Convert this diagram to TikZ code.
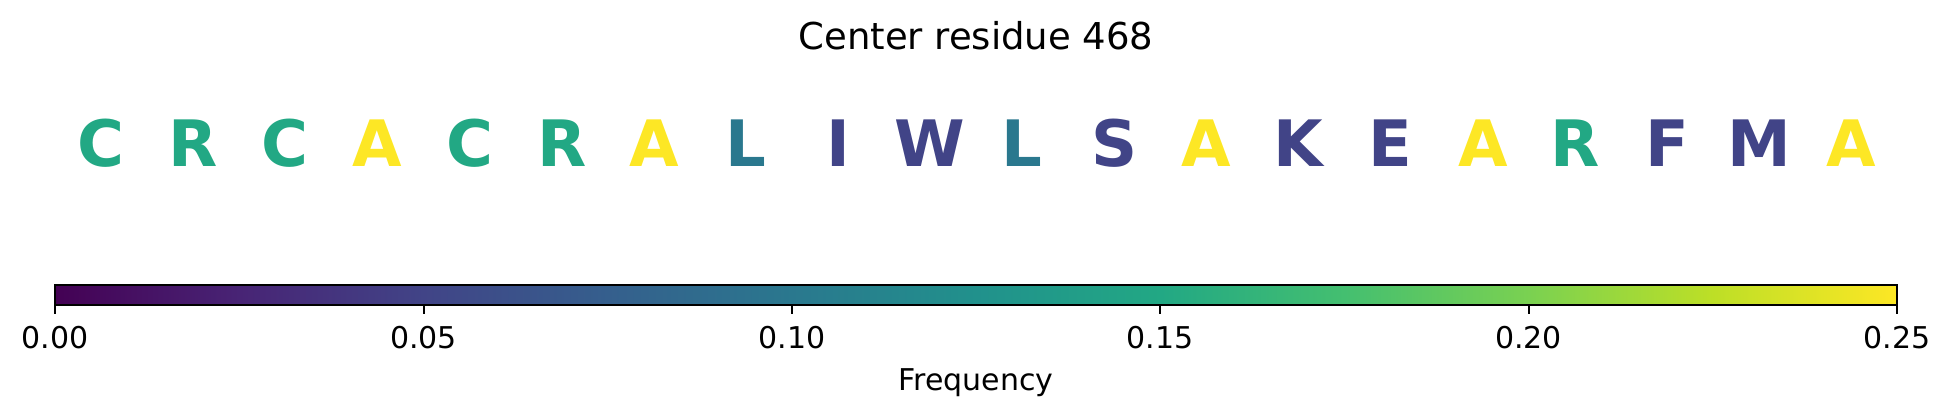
\documentclass[tikz,border=0pt]{standalone}
\usepackage{fontspec}
\setmainfont{DejaVu Sans}
% viridis colour map
\definecolor{vir0}{HTML}{440154}
\definecolor{vir1}{HTML}{482475}
\definecolor{vir2}{HTML}{414487}
\definecolor{vir3}{HTML}{355F8D}
\definecolor{vir4}{HTML}{2A788E}
\definecolor{vir5}{HTML}{21918C}
\definecolor{vir6}{HTML}{22A884}
\definecolor{vir7}{HTML}{44BF70}
\definecolor{vir8}{HTML}{7AD151}
\definecolor{vir9}{HTML}{BDDF26}
\definecolor{vir10}{HTML}{FDE725}
\pgfdeclarehorizontalshading{viridis}{100bp}{color(0bp)=(vir0); color(25bp)=(vir0);
  color(30bp)=(vir1); color(35bp)=(vir2); color(40bp)=(vir3); color(45bp)=(vir4);
  color(50bp)=(vir5); color(55bp)=(vir6); color(60bp)=(vir7); color(65bp)=(vir8);
  color(70bp)=(vir9); color(75bp)=(vir10); color(100bp)=(vir10)}
\begin{document}
\begin{tikzpicture} [
   x=0.5pt, y=-0.5pt,
   res/.style={anchor=base, inner sep=0pt, font=\fontsize{32}{38}\selectfont\bfseries},
   tick/.style={anchor=base, inner sep=0pt, font=\fontsize{15}{18}\selectfont}
]
   \useasboundingbox (0,0) rectangle (1952,416);
   \node (title) [anchor=base, inner sep=0pt, font=\fontsize{18.5}{22}\selectfont] at (976,49.3) {Center residue 468};
   % residues coloured by frequency
   \foreach \l/\c [count=\i] in {C/vir6, R/vir6, C/vir6, A/vir10, C/vir6, R/vir6, A/vir10,
         L/vir4, I/vir2, W/vir2, L/vir4, S/vir2, A/vir10, K/vir2, E/vir2, A/vir10,
         R/vir6, F/vir2, M/vir2, A/vir10}
      \node (r\i) [res, text=\c] at ({55.2+92.1*(\i-0.5)},166.7) {\l};
   % colour bar
   \shade [shading=viridis] (55.2,285.3) rectangle (1897,305.3);
   \draw [line width=1pt] (55.2,285.3) rectangle (1897,305.3);
   \foreach \v [count=\k from 0] in {0.00,0.05,0.10,0.15,0.20,0.25} {
      \draw [line width=1pt] ({55.2+368.36*\k},305.3) -- ++(0,8.7);
      \node (t\k) [tick] at ({55.2+368.36*\k},348.3) {\v};
   }
   \node (freq) [tick] at (976,390.7) {Frequency};
\end{tikzpicture}
\end{document}
